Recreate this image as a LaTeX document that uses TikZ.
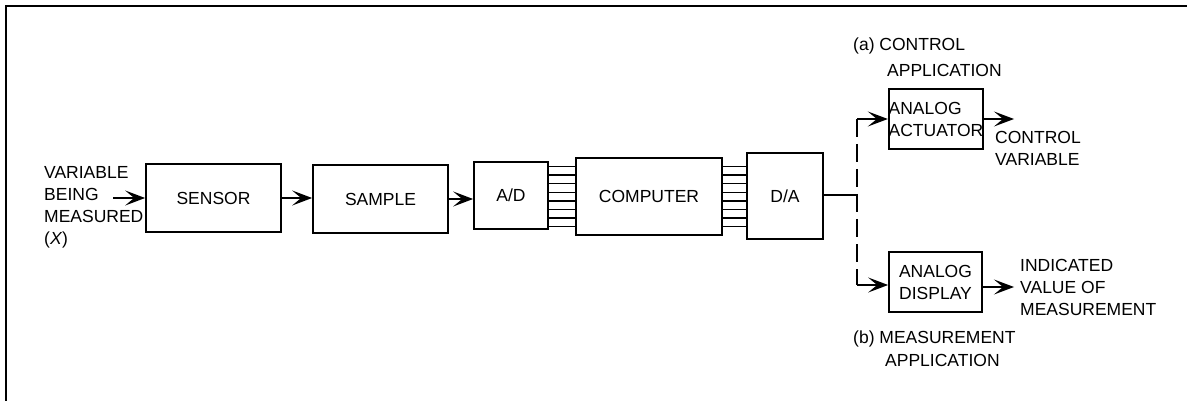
\documentclass[tikz,border=0pt]{standalone}
\usepackage{fontspec}
\setmainfont{Liberation Sans}
\usetikzlibrary{arrows.meta}
\tikzset{
  blk/.style={draw, line width=1.7pt, inner sep=0pt, font=\fontsize{17.5}{22}\selectfont},
  lbl/.style={inner sep=0pt, font=\fontsize{17.5}{22}\selectfont, align=left},
  flow/.style={line width=1.7pt, -{Stealth[length=20pt, width=15pt, inset=9pt]}},
  bus/.style={line width=1.4pt},
  dsh/.style={line width=1.7pt, dash pattern=on 18pt off 7pt},
  frame/.style={line width=1.3pt}
}
\begin{document}
\begin{tikzpicture}[x=1pt,y=-1pt]
\useasboundingbox (0,0) rectangle (1187,401);
% partial frame
\coordinate (ftr) at (1187,6);
\coordinate (ftl) at (6,6);
\coordinate (fbl) at (6,401);
\draw[frame] (ftr) -- (ftl) -- (fbl);

% boxes
\node[blk, minimum width=135pt, minimum height=68pt] (sensor) at (213.5,198) {SENSOR};
\node[blk, minimum width=135pt, minimum height=68pt] (sample) at (380.5,199) {SAMPLE};
\node[blk, minimum width=74pt, minimum height=67pt] (ad) at (511,195.5) {A/D};
\node[blk, minimum width=146pt, minimum height=77pt] (comp) at (649,196.5) {COMPUTER};
\node[blk, minimum width=76pt, minimum height=86pt] (da) at (785,196) {D/A};
\node[blk, minimum width=94pt, minimum height=60pt, align=left] (act) at (936,119) {ANALOG\\ACTUATOR};
\node[blk, minimum width=93pt, minimum height=60pt, align=center] (disp) at (935.5,282) {ANALOG\\DISPLAY};

% input label
\node[lbl, anchor=north west] (inlbl) at (44,166) {VARIABLE\\BEING\\MEASURED\\(\textit{X})};
\coordinate (instart) at (113,198);
\draw[flow] (instart) -- (sensor.west);

\draw[flow] (sensor.east) -- (sensor.east -| sample.west);
\draw[flow] (sample.east) -- (sample.east -| ad.west);

% buses
\foreach \i in {0,...,7} {
  \coordinate (b\i) at (0,{166.5+8.6*\i});
  \draw[bus] (ad.east |- b\i) -- (comp.west |- b\i);
  \draw[bus] (comp.east |- b\i) -- (da.west |- b\i);
}

% output branch
\coordinate (split) at (857,195);
\coordinate (topc) at (857,119);
\coordinate (botc) at (857,285);
\draw[line width=1.7pt] (da.east |- split) -- (split);
\draw[dsh] (topc) -- (botc);
\draw[flow] (topc) -- (topc -| act.west);
\draw[flow] (botc) -- (botc -| disp.west);

\coordinate (actout) at (1014,119);
\coordinate (dispout) at (1014,287);
\draw[flow] (act.east) -- (actout);
\draw[flow] (disp.east |- dispout) -- (dispout);

% labels
\node[lbl, anchor=west] (alab1) at (853,46) {(a) CONTROL};
\node[lbl, anchor=west] (alab2) at (887,70) {APPLICATION};
\node[lbl, anchor=north west] (cv) at (995,131.5) {CONTROL\\VARIABLE};
\node[lbl, anchor=north west] (ind) at (1020,259.5) {INDICATED\\VALUE OF\\MEASUREMENT};
\node[lbl, anchor=west] (blab1) at (853,339) {(b) MEASUREMENT};
\node[lbl, anchor=west] (blab2) at (885,360) {APPLICATION};
\end{tikzpicture}
\end{document}
